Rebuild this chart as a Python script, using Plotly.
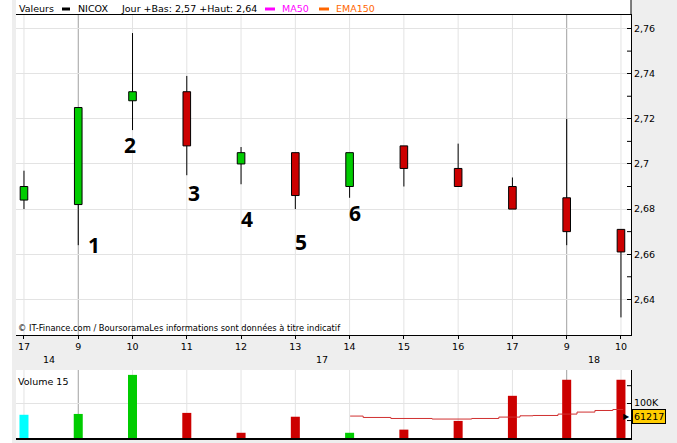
import plotly.graph_objects as go

# ---------------- data ----------------
hour_labels = ["17", "9", "10", "11", "12", "13", "14", "15", "16", "17", "9", "10"]
day_labels = ["14", "17", "18"]
day_label_x = [0.46, 5.5, 10.5]
day_break_idx = [1, 10]

opens  = [2.684, 2.682, 2.728, 2.732, 2.700, 2.705, 2.690, 2.708, 2.698, 2.690, 2.685, 2.671]
highs  = [2.697, 2.725, 2.758, 2.739, 2.7075, 2.705, 2.705, 2.708, 2.709, 2.694, 2.720, 2.671]
lows   = [2.680, 2.664, 2.715, 2.695, 2.691, 2.680, 2.685, 2.690, 2.690, 2.680, 2.664, 2.632]
closes = [2.690, 2.725, 2.732, 2.708, 2.705, 2.686, 2.705, 2.698, 2.690, 2.680, 2.670, 2.661]

volumes = [66600, 69000, 181000, 72000, 15000, 61000, 15000, 24000, 49000, 121000, 167000, 167000]
vol_colors = ["#00FFFF", "#00CC00", "#00CC00", "#CC0000", "#CC0000", "#CC0000",
              "#00CC00", "#CC0000", "#CC0000", "#CC0000", "#CC0000", "#CC0000"]

ma_x = [6.01, 6.25, 6.76, 7.52, 8.25, 8.75, 9.14, 9.38, 9.84, 10.19, 10.52, 10.85, 11.04]
ma_y = [62900, 58900, 56000, 54300, 56000, 60000, 63700, 64600, 68600, 74300, 78900, 81700, 81700]
ma_last = 61217

price_ticks = [2.64, 2.66, 2.68, 2.70, 2.72, 2.74, 2.76]
price_ticktext = ["2,64", "2,66", "2,68", "2,7", "2,72", "2,74", "2,76"]
price_minor = [2.65, 2.67, 2.69, 2.71, 2.73, 2.75]

marks = ["1", "2", "3", "4", "5", "6"]
mark_x = [1.29, 1.95, 3.13, 4.11, 5.10, 6.10]
mark_y = [2.6641, 2.7084, 2.6871, 2.6756, 2.6654, 2.6783]

# ---------------- geometry helpers (page pixels -> paper) ----------------
W, H = 677, 443
ML, MR, MT, MB = 16, 46, 0, 5
PW, PH = W - ML - MR, H - MT - MB


def px_x(px):
    return (px - ML) / PW


def px_y(py):
    return (PH - (py - MT)) / PH


FONT = "DejaVu Sans"
GRID = "#E3E3E3"
DARK = "#A0A0A0"
GREEN, RED = "#00CC00", "#CC0000"

idx = list(range(len(opens)))
body_base = [min(o, c) for o, c in zip(opens, closes)]
body_h = [abs(c - o) for o, c in zip(opens, closes)]
body_col = [GREEN if c >= o else RED for o, c in zip(opens, closes)]

wx, wy = [], []
for i, o, h, l, c in zip(idx, opens, highs, lows, closes):
    top, bot = max(o, c), min(o, c)
    if h > top:
        wx += [i, i, None]
        wy += [top, h, None]
    if l < bot:
        wx += [i, i, None]
        wy += [l, bot, None]

fig = go.Figure()
fig.add_trace(go.Scatter(x=wx, y=wy, mode="lines", line=dict(color="black", width=1),
                         xaxis="x", yaxis="y", hoverinfo="skip", showlegend=False))
fig.add_trace(go.Bar(x=idx, y=body_h, base=body_base, width=0.14,
                     marker=dict(color=body_col, line=dict(color="black", width=1)),
                     xaxis="x", yaxis="y", showlegend=False))
fig.add_trace(go.Bar(x=idx, y=volumes, width=0.166, marker=dict(color=vol_colors, line=dict(width=0)),
                     xaxis="x2", yaxis="y2", showlegend=False))
fig.add_trace(go.Scatter(x=ma_x, y=ma_y, mode="lines", line=dict(color="#D03030", width=1, shape="hv"),
                         xaxis="x2", yaxis="y2", showlegend=False, hoverinfo="skip"))

price_dom = [px_y(335), px_y(15)]
vol_dom = [0, px_y(370)]
xr = [-0.147, 11.185]

fig.update_layout(
    width=W, height=H,
    margin=dict(l=ML, r=MR, t=MT, b=MB, autoexpand=False),
    paper_bgcolor="#EEEEEE", plot_bgcolor="white",
    barmode="overlay", showlegend=False,
    font=dict(family=FONT, size=9.5, color="black"),
    xaxis=dict(domain=[0, 1], range=xr, anchor="y", tickmode="array", tickvals=idx, ticktext=hour_labels,
               ticks="outside", ticklen=3, tickcolor="black", showline=True, linecolor="black", linewidth=1,
               mirror=True, showgrid=False, zeroline=False,
               tickfont=dict(family=FONT, size=9.5)),
    yaxis=dict(domain=price_dom, range=[2.6242, 2.766], side="right", anchor="x", tickmode="array",
               tickvals=price_ticks, ticktext=price_ticktext, ticks="inside", ticklen=4, tickcolor="black",
               showline=True, linecolor="black", linewidth=1, showgrid=True, gridcolor=GRID, zeroline=False,
               tickfont=dict(family=FONT, size=9.5)),
    xaxis2=dict(domain=[0, 1], range=xr, anchor="y2", tickvals=idx, showticklabels=False,
                ticks="", showline=True, linecolor="black", linewidth=1.5, showgrid=False,
                zeroline=False),
    yaxis2=dict(domain=vol_dom, range=[0, 195000], side="right", anchor="x2", tickmode="array",
                tickvals=[100000], ticktext=["100K"], ticks="inside", ticklen=4, tickcolor="black",
                showline=True, linecolor="black", linewidth=1, showgrid=True, gridcolor=GRID, zeroline=False,
                tickfont=dict(family=FONT, size=9.5)),
)

shapes = []
# white strip behind the legend row
shapes.append(dict(type="rect", xref="paper", yref="paper", x0=0, x1=1, y0=price_dom[1], y1=px_y(0),
                   fillcolor="white", line=dict(width=0), layer="below"))
# left white border
shapes.append(dict(type="rect", xref="paper", yref="paper", x0=px_x(0), x1=px_x(12), y0=px_y(443),
                   y1=px_y(0), fillcolor="white", line=dict(width=0), layer="below"))
# right axis continues to the top
shapes.append(dict(type="line", xref="paper", yref="paper", x0=1, x1=1, y0=price_dom[1], y1=px_y(0),
                   line=dict(color="black", width=1)))
# vertical grid lines (darker at day breaks)
for i in idx:
    col = DARK if i in day_break_idx else GRID
    for xa, ya in [("x", "y"), ("x2", "y2")]:
        shapes.append(dict(type="line", xref=xa, yref=ya + " domain", x0=i, x1=i, y0=0, y1=1,
                           line=dict(color=col, width=1), layer="below"))
# minor ticks (inside, on right axes)
for v in price_minor:
    shapes.append(dict(type="line", xref="paper", yref="y", x0=1 - 4 / PW, x1=1, y0=v, y1=v,
                       line=dict(color="black", width=1)))
for v in [50000, 150000]:
    shapes.append(dict(type="line", xref="paper", yref="y2", x0=1 - 4 / PW, x1=1, y0=v, y1=v,
                       line=dict(color="black", width=1)))
# legend colour keys
for x0, x1, col in [(62, 70, "black"), (265, 275, "#FF00FF"), (319, 329, "#FF6600")]:
    shapes.append(dict(type="rect", xref="paper", yref="paper", x0=px_x(x0), x1=px_x(x1),
                       y0=px_y(10.5), y1=px_y(7.5), fillcolor=col, line=dict(width=0)))
fig.update_layout(shapes=shapes)

ann = []
legend_items = [(17, "Valeurs", "black"), (76, "NICOX", "black"),
                (119, "Jour +Bas: 2,57 +Haut: 2,64", "black"),
                (280, "MA50", "#FF00FF"), (334, "EMA150", "#FF6600")]
for x, t, col in legend_items:
    ann.append(dict(xref="paper", yref="paper", x=px_x(x), y=px_y(8.5), text=t, showarrow=False,
                    xanchor="left", yanchor="middle", font=dict(family=FONT, size=9.5, color=col)))
ann.append(dict(xref="paper", yref="paper", x=px_x(16), y=px_y(328),
                text="© IT-Finance.com / BoursoramaLes informations sont données à titre indicatif",
                showarrow=False, xanchor="left", yanchor="middle", font=dict(family=FONT, size=8.3)))
ann.append(dict(xref="paper", yref="paper", x=px_x(16), y=px_y(381), text="Volume 15", showarrow=False,
                xanchor="left", yanchor="middle", font=dict(family=FONT, size=9.5)))
for t, x in zip(day_labels, day_label_x):
    ann.append(dict(xref="x", yref="paper", x=x, y=px_y(359), text=t, showarrow=False,
                    xanchor="center", yanchor="middle", font=dict(family=FONT, size=9.5)))
for t, x, y in zip(marks, mark_x, mark_y):
    ann.append(dict(xref="x", yref="y", x=x, y=y, text="<b>" + t + "</b>", showarrow=False,
                    xanchor="center", yanchor="middle", font=dict(family="Open Sans", size=21, color="black")))
ann.append(dict(xref="paper", yref="y2", x=1, y=ma_last, text=f"{ma_last}", showarrow=False,
                xanchor="left", yanchor="middle", xshift=1, bgcolor="#FFCC00", bordercolor="black",
                borderwidth=1, borderpad=1, font=dict(family=FONT, size=9.5)))
ann.append(dict(xref="paper", yref="y2", x=1, y=ma_last, text="▶", showarrow=False,
                xanchor="right", yanchor="middle", xshift=1, font=dict(family=FONT, size=8)))
fig.update_layout(annotations=ann)

# the page's default 8px body margin would push the figure off the window
fig.write_html("out.html", config={"displayModeBar": False},
               post_script="document.body.style.margin='0px';")
